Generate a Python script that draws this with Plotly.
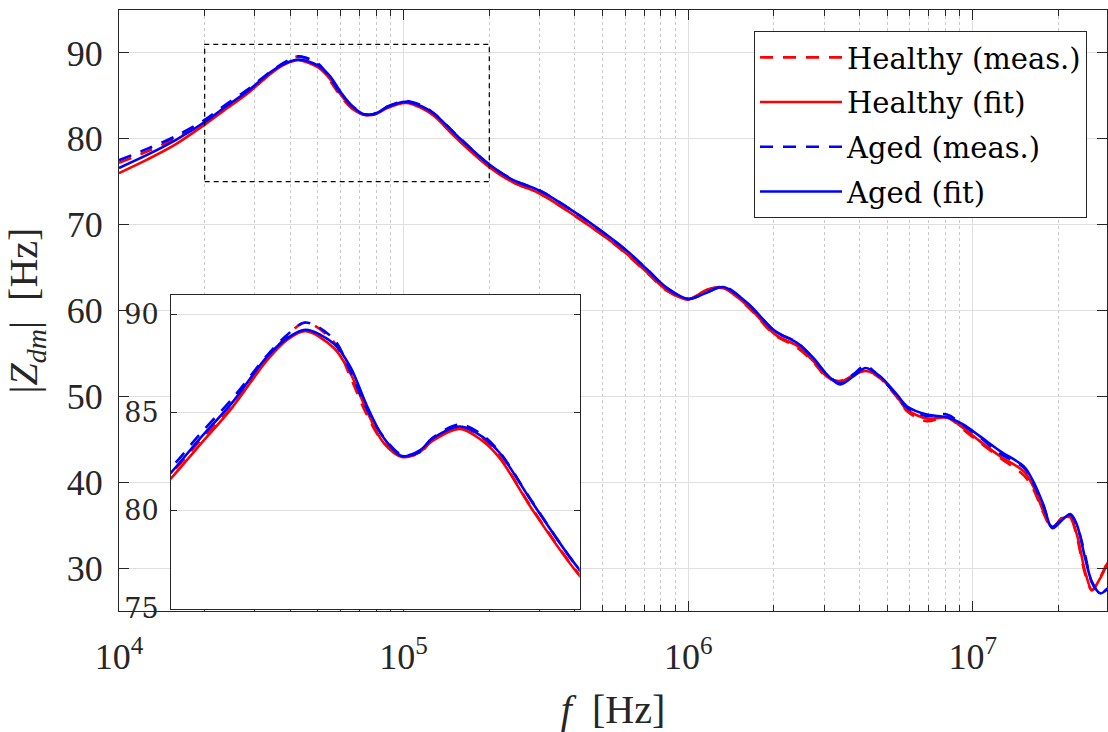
import math
import plotly.graph_objects as go

# ---------------- data ----------------
freq_hz = [1.0e4, 1.26e4, 1.58e4, 2.0e4, 2.34e4, 2.82e4, 3.43e4, 3.84e4, 4.27e4, 5.01e4,
           5.5e4, 6.03e4, 6.61e4, 7.35e4, 8.13e4, 8.71e4, 1.02e5, 1.16e5, 1.28e5, 1.54e5,
           2.0e5, 2.43e5, 3.02e5, 4.01e5, 5.04e5, 6.1e5, 7.16e5, 8.41e5, 1.0e6, 1.16e6,
           1.33e6, 1.61e6, 2.02e6, 2.41e6, 2.75e6, 3.07e6, 3.42e6, 3.81e6, 4.19e6, 4.72e6,
           5.41e6, 5.86e6, 6.89e6, 8.11e6, 9.27e6, 1.06e7, 1.25e7, 1.51e7, 1.63e7, 1.77e7,
           1.90e7, 2.06e7, 2.20e7, 2.32e7, 2.48e7, 2.62e7, 2.80e7, 2.99e7]

healthy_meas = [77.2, 78.55, 80.05, 81.9, 83.5, 85.3, 87.7, 88.9, 89.6, 88.6,
                86.8, 84.9, 83.5, 82.8, 82.95, 83.6, 84.3, 83.7, 82.7, 80.05,
                76.75, 74.95, 73.6, 71.0, 68.7, 66.5, 64.4, 62.3, 61.3, 62.4,
                62.65, 60.5, 57.1, 55.7, 54.0, 52.2, 51.8, 52.5, 53.0, 52.1,
                49.9, 48.3, 47.1, 47.6, 46.1, 44.6, 42.8, 40.8, 39.2, 36.4,
                34.6, 35.9, 35.8, 33.6, 29.3, 27.4, 28.9, 30.9]

healthy_fit = [76.0, 77.6, 79.35, 81.65, 83.3, 85.25, 87.65, 88.7, 89.15, 88.3,
               87.0, 85.1, 83.5, 82.75, 83.0, 83.55, 84.18, 83.55, 82.65, 80.0,
               76.7, 74.9, 73.6, 71.0, 68.7, 66.55, 64.45, 62.35, 61.3, 62.4,
               62.6, 60.6, 57.2, 55.9, 54.1, 52.3, 51.7, 52.5, 52.95, 52.2,
               50.0, 48.46, 47.41, 47.5, 46.3, 44.76, 43.0, 41.26, 39.5, 36.6,
               34.7, 35.8, 35.9, 33.9, 29.6, 27.46, 28.8, 30.76]

aged_meas = [77.5, 78.85, 80.3, 82.2, 83.85, 85.7, 87.9, 88.95, 89.6, 88.75,
             87.1, 85.2, 83.8, 82.85, 83.0, 83.7, 84.4, 83.85, 82.95, 80.4,
             77.0, 75.2, 73.95, 71.4, 69.05, 66.9, 64.8, 62.6, 61.35, 62.1,
             62.8, 60.85, 57.55, 56.3, 54.4, 52.6, 51.5, 52.6, 53.55, 52.2,
             50.1, 48.7, 47.7, 47.9, 46.6, 45.2, 43.3, 41.7, 39.9, 37.2,
             34.8, 35.7, 36.2, 35.0, 31.5, 28.3, 27.1, 27.7]

aged_fit = [76.6, 78.15, 79.85, 81.95, 83.62, 85.5, 87.84, 88.78, 89.23, 88.52,
            87.33, 85.37, 83.76, 82.79, 83.08, 83.67, 84.30, 83.76, 82.91, 80.36,
            77.0, 75.18, 73.93, 71.4, 69.07, 66.93, 64.8, 62.65, 61.35, 62.07,
            62.73, 60.9, 57.6, 56.23, 54.48, 52.54, 51.38, 52.35, 53.3, 52.35,
            50.21, 48.85, 47.88, 47.56, 46.7, 45.34, 43.6, 41.84, 40.1, 37.37,
            34.64, 35.6, 36.3, 35.04, 31.14, 28.4, 27.06, 27.65]

series_names = ["Healthy (meas.)", "Healthy (fit)", "Aged (meas.)", "Aged (fit)"]
series_values = [healthy_meas, healthy_fit, aged_meas, aged_fit]
series_colors = ["#ff0000", "#ff0000", "#0000ff", "#0000ff"]
series_dash = ["13px,10px", "solid", "13px,10px", "solid"]

x_tick_vals = [1e4, 1e5, 1e6, 1e7]
x_tick_text = ["10<sup>4</sup>", "10<sup>5</sup>", "10<sup>6</sup>", "10<sup>7</sup>"]
x_minor_vals = [m * 10 ** k for k in range(4, 8) for m in range(2, 10) if m * 10 ** k < 3e7]
y_tick_vals = [30, 40, 50, 60, 70, 80, 90]
inset_y_ticks = [75, 80, 85, 90]

main_f_range = [1e4, 2.96e7]
main_y_range = [25, 95]
inset_f_range = [2e4, 2e5]
inset_y_range = [75, 91]

# ---------------- figure ----------------
W, H = 1108, 732
ML, MR, MT, MB = 119, 1, 10, 121
pw, ph = W - ML - MR, H - MT - MB

def px_to_paper_x(px):
    return (px - ML) / pw

def px_to_paper_y(py):
    return (H - MB - py) / ph

fig = go.Figure()
for name, vals, col, dash in zip(series_names, series_values, series_colors, series_dash):
    fig.add_trace(go.Scatter(x=freq_hz, y=vals, name=name, mode="lines",
                             line=dict(color=col, width=2.6, dash=dash, shape="spline", smoothing=0.9),
                             legendgroup=name, xaxis="x", yaxis="y"))
for name, vals, col, dash in zip(series_names, series_values, series_colors, series_dash):
    fig.add_trace(go.Scatter(x=freq_hz, y=vals, name=name, mode="lines", showlegend=False,
                             line=dict(color=col, width=2.6, dash=dash, shape="spline", smoothing=0.9),
                             legendgroup=name, xaxis="x2", yaxis="y2"))

axis_col = "rgb(38,38,38)"
tick_font = dict(family="Liberation Serif", size=36, color="rgb(38,38,38)")

fig.update_layout(
    width=W, height=H,
    margin=dict(l=ML, r=MR, t=MT, b=MB, autoexpand=False),
    paper_bgcolor="white", plot_bgcolor="white",
    xaxis=dict(type="log", range=[math.log10(v) for v in main_f_range],
               domain=[0, 1], anchor="y", automargin=False,
               tickmode="array", tickvals=x_tick_vals, ticktext=x_tick_text,
               tickfont=tick_font, ticks="inside", ticklen=10, tickcolor=axis_col,
               showline=True, linecolor=axis_col, linewidth=1, mirror="allticks",
               showgrid=True, gridcolor="rgb(223,223,223)", gridwidth=1,
               minor=dict(tickmode="array", tickvals=x_minor_vals, ticks="inside", ticklen=6,
                          tickcolor=axis_col, showgrid=True, gridcolor="rgb(200,200,200)",
                          griddash="dot", gridwidth=1),
               zeroline=False, ticklabelstandoff=14,
               title=dict(text="<i>f</i>  [Hz]", font=dict(family="Liberation Serif", size=40,
                                                           color="rgb(38,38,38)"), standoff=20)),
    yaxis=dict(range=main_y_range, domain=[0, 1], anchor="x", automargin=False,
               tickmode="array", tickvals=y_tick_vals,
               tickfont=tick_font, ticks="inside", ticklen=10, tickcolor=axis_col,
               showline=True, linecolor=axis_col, linewidth=1, mirror="allticks",
               showgrid=True, gridcolor="rgb(223,223,223)", gridwidth=1, zeroline=False,
               ticklabelstandoff=8,
               title=dict(text="|<i>Z</i><sub><i>dm</i></sub>|  [Hz]",
                          font=dict(family="Liberation Serif", size=40, color="rgb(38,38,38)"),
                          standoff=16)),
    xaxis2=dict(type="log", range=[math.log10(v) for v in inset_f_range],
                domain=[px_to_paper_x(171), px_to_paper_x(579.5)], anchor="y2", automargin=False,
                showticklabels=False, ticks="", showgrid=False,
                showline=True, linecolor=axis_col, linewidth=1, mirror=True, zeroline=False),
    yaxis2=dict(range=inset_y_range,
                domain=[px_to_paper_y(609), px_to_paper_y(295)], anchor="x2", automargin=False,
                tickmode="array", tickvals=inset_y_ticks,
                tickfont=dict(family="DejaVu Serif", size=27, color="rgb(38,38,38)"),
                ticks="inside", ticklen=6, tickcolor=axis_col,
                showline=True, linecolor=axis_col, linewidth=1, mirror="allticks",
                showgrid=True, gridcolor="rgb(223,223,223)", zeroline=False,
                ticklabelstandoff=6),
    legend=dict(x=px_to_paper_x(754), y=px_to_paper_y(31), xanchor="left", yanchor="top",
                bgcolor="white", bordercolor=axis_col, borderwidth=1,
                font=dict(family="DejaVu Serif", size=29, color="black"),
                itemwidth=82, tracegroupgap=4),
    shapes=[dict(type="rect", xref="x", yref="y",
                 x0=inset_f_range[0], x1=inset_f_range[1],
                 y0=inset_y_range[0], y1=inset_y_range[1],
                 line=dict(color="black", width=1.2, dash="5px,4px"), layer="above")],
)

# remove the browser's default 8 px body margin so the figure fills the window exactly
fig.write_html("out.html",
               config={"displayModeBar": False},
               post_script="document.body.style.margin='0px';document.body.style.overflow='hidden';")
